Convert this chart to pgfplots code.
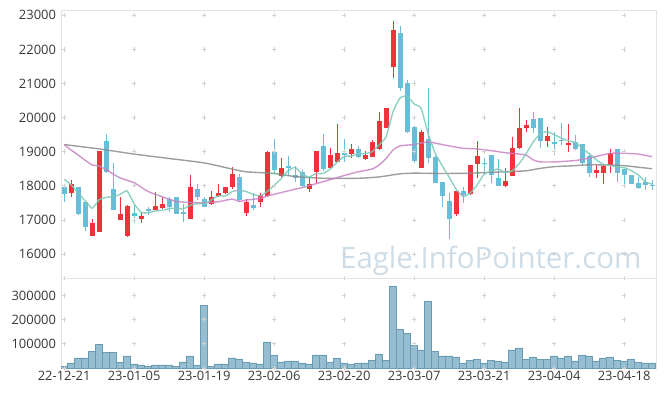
\documentclass[border=0pt]{standalone}
\usepackage{pgfplots}
\pgfplotsset{compat=1.18}
\usepackage{pgfplotstable}
\usepackage{fontspec}
\setmainfont{Open Sans}

\definecolor{upc}{RGB}{238,52,58}
\definecolor{dnc}{RGB}{104,190,216}
\definecolor{mafivec}{RGB}{125,200,185}
\definecolor{matwentyc}{RGB}{200,130,195}
\definecolor{masixtyc}{RGB}{140,140,140}
\definecolor{volf}{RGB}{150,190,208}
\definecolor{vold}{RGB}{105,155,180}
\definecolor{framec}{RGB}{226,226,226}
\definecolor{gridc}{RGB}{210,210,210}
\definecolor{wm}{RGB}{205,220,230}
\definecolor{lbl}{RGB}{55,55,55}

% up candles (close >= open)
\pgfplotstableread{
i o h l c
1 17800 18170 17680 18050
4 16540 17020 16530 16900
5 16650 19020 16640 19020
8 17000 17660 16990 17170
9 16530 17440 16510 17400
11 17040 17240 16900 17120
13 17290 17810 17280 17410
14 17360 17680 17310 17470
18 17030 18320 17020 17950
21 17460 17860 17440 17680
22 17690 18050 17660 17780
23 17780 17960 17770 17950
24 17960 18540 17900 18350
26 17210 17600 17110 17510
28 17515 17780 17370 17730
29 17700 19030 17660 18990
31 18290 18810 18270 18510
35 17900 18220 17810 18050
36 18390 19020 18070 19020
38 18530 19100 18510 18900
39 18710 19810 18700 18970
41 18930 19220 18810 19070
43 18780 19030 18760 18900
44 18840 19340 18830 19280
45 19070 20160 19060 19900
46 19690 20280 19680 20270
47 21490 22830 21150 22570
51 18530 19640 18510 19590
56 17170 17850 17110 17850
58 17750 18620 17740 18610
59 18630 19310 18220 18860
63 18000 18530 17970 18130
64 18300 19420 18280 19100
65 19100 20270 19090 19690
66 19700 19930 19590 19780
69 19320 19720 19150 19460
72 19215 19810 19000 19245
76 18380 18610 18240 18460
77 18370 18610 18040 18580
78 18600 19070 18370 18950
}\up

% down candles (close < open)
\pgfplotstableread{
i o h l c
0 17950 18020 17530 17750
2 17950 17960 17150 17180
3 17520 17530 16670 16800
6 19310 19520 18380 18390
7 17900 18660 17280 17290
10 17190 17440 16900 17100
12 17300 17390 17150 17280
15 17610 17680 17240 17370
16 17660 17670 17180 17180
17 17210 17470 16950 17190
19 17900 18050 17580 17680
20 17600 17660 17370 17390
25 18270 18340 17530 17580
27 17440 17780 17290 17340
30 19000 19360 18380 18460
32 18580 18880 18320 18510
33 18320 18580 18120 18220
34 18390 18460 17930 18000
37 19170 19520 18430 18490
40 18970 19360 18710 18900
42 19070 19170 18810 18850
48 22470 22700 20780 20860
49 21000 21100 19560 19570
50 19730 19740 18660 18740
52 19370 20860 18660 18820
53 18850 18860 18080 18090
54 18110 18110 17390 17710
55 17550 17780 16440 17040
57 17850 17950 17500 17730
60 18670 18820 18320 18650
61 18890 18900 18090 18320
62 18220 18780 17990 18000
67 19960 20150 19560 19690
68 19980 19990 19100 19320
70 19290 19590 18900 19230
71 19350 19830 19200 19320
73 19280 19490 19050 19090
74 19230 19230 18610 18660
75 18870 18950 18270 18380
79 19070 19070 18120 18370
80 18480 18490 18050 18320
81 18320 18330 18040 18050
82 18090 18250 17900 17940
83 18120 18270 17880 18020
84 18020 18170 17880 18000
}\down

\pgfplotstableread{
i v
0 18190
1 18030
2 17790
3 17560
4 17340
5 17590
6 17660
7 17680
8 17750
9 17850
10 17470
11 17220
12 17210
13 17260
14 17280
15 17330
16 17340
17 17320
18 17430
19 17470
20 17480
21 17580
22 17700
23 17700
24 17830
25 17870
26 17830
27 17750
28 17700
29 17830
30 18010
31 18210
32 18440
33 18540
34 18340
35 18260
36 18360
37 18360
38 18490
39 18690
40 18860
41 18870
42 18940
43 18940
44 19000
45 19200
46 19440
47 20180
48 20580
49 20630
50 20400
51 20270
52 19520
53 18960
54 18590
55 18250
56 17900
57 17680
58 17790
59 18020
60 18340
61 18430
62 18490
63 18390
64 18440
65 18650
66 18940
67 19280
68 19520
69 19590
70 19500
71 19400
72 19320
73 19270
74 19110
75 18940
76 18770
77 18630
78 18600
79 18550
80 18530
81 18450
82 18320
83 18120
84 18050
}\mafive

\pgfplotstableread{
i v
0 19200
2 18900
4 18610
5 18580
6 18470
8 18230
10 18090
12 17830
14 17680
16 17540
18 17510
20 17500
22 17530
24 17610
25 17540
26 17580
28 17630
29 17700
31 17800
33 17900
34 17945
37 18120
40 18300
42 18410
44 18490
45 18610
46 18800
47 19050
48 19170
50 19210
52 19290
53 19250
55 19170
57 19100
59 19080
61 19030
63 18970
65 18930
66 18900
67 18760
68 18700
70 18700
73 18740
75 18810
78 18950
80 18950
82 18930
84 18850
}\matwenty

\pgfplotstableread{
i v
0 19210
5 19080
10 18930
15 18800
20 18670
24 18490
26 18410
30 18360
33 18270
37 18220
42 18220
45 18260
48 18350
50 18370
54 18360
58 18370
63 18410
66 18440
68 18510
70 18560
73 18590
75 18615
78 18610
80 18590
82 18545
84 18500
}\masixty

\pgfplotstableread{
i v
0 8000
1 21000
2 42000
3 42000
4 67000
5 96000
6 63000
7 63000
8 25000
9 50000
10 17000
11 12500
12 8000
13 12500
14 12500
15 12500
16 8000
17 25000
18 50000
19 12500
20 258000
21 8000
22 17000
23 17000
24 42000
25 37000
26 25000
27 21000
28 17000
29 108000
30 54000
31 25000
32 29000
33 29000
34 21000
35 17000
36 54000
37 54000
38 25000
39 42000
40 21000
41 15000
42 21000
43 21000
44 33000
45 58000
46 33000
47 339000
48 158000
49 142000
50 92000
51 75000
52 275000
53 67000
54 50000
55 50000
56 46000
57 21000
58 33000
59 37000
60 21000
61 33000
62 29000
63 25000
64 75000
65 83000
66 37000
67 46000
68 37000
69 37000
70 50000
71 42000
72 50000
73 29000
74 54000
75 50000
76 29000
77 42000
78 46000
79 33000
80 29000
81 37000
82 25000
83 21000
84 21000
}\vol

\pgfplotsset{
  cstyle/.style={
    scale only axis, width=595bp, anchor=south west,
    xmin=-0.45, xmax=84.55,
    axis line style={draw=framec, line width=0.8bp},
    major tick length=0pt, tick style={draw=none},
    ticklabel style={font=\fontsize{13}{15}\selectfont, text=lbl},
    yticklabel style={xshift=-1.5bp},
    /pgf/number format/fixed,
    /pgf/number format/1000 sep={},
    /pgf/number format/assume math mode=true,
    scaled y ticks=false,
  },
  crossst/.style={only marks, mark=+, mark size=2.2bp, color=gridc, mark options={line width=0.7bp}},
  candle/.style 2 args={draw=none, mark=none, forget plot,
    error bars/.cd, y dir=both, y explicit, error mark=none,
    error bar style={line width=#2, draw=#1, solid}},
}

\begin{document}
\begin{tikzpicture}
\useasboundingbox (0,0) rectangle (665bp,396bp);
\node[anchor=base west, font=\fontsize{29.5}{30}\selectfont, text=wm, inner sep=0pt] at (340bp,127.7bp) {Eagle.InfoPointer.com};

\begin{axis}[cstyle, at={(61bp,118bp)}, height=268bp,
  ymin=15295, ymax=23155, ytick={16000,17000,...,23000}, xtick=\empty]
\pgfplotsinvokeforeach{0,10,...,80}{
  \addplot[crossst] coordinates {(#1,15295) (#1,16000) (#1,17000) (#1,18000) (#1,19000) (#1,20000) (#1,21000) (#1,22000) (#1,23000)};
}
% wicks
\addplot[candle={upc}{1.1bp}]
  table[x=i, y expr={(\thisrow{h}+\thisrow{l})/2}, y error expr={(\thisrow{h}-\thisrow{l})/2}] {\up};
\addplot[candle={dnc}{1.1bp}]
  table[x=i, y expr={(\thisrow{h}+\thisrow{l})/2}, y error expr={(\thisrow{h}-\thisrow{l})/2}] {\down};
% bodies
\addplot[candle={upc}{5bp}]
  table[x=i, y expr={(\thisrow{o}+\thisrow{c})/2}, y error expr={max(abs(\thisrow{c}-\thisrow{o})/2,20)}] {\up};
\addplot[candle={dnc}{5bp}]
  table[x=i, y expr={(\thisrow{o}+\thisrow{c})/2}, y error expr={max(abs(\thisrow{c}-\thisrow{o})/2,20)}] {\down};
% moving averages
\addplot[masixtyc, line width=1.4bp, opacity=0.85, smooth, tension=0.4, mark=none] table[x=i,y=v] {\masixty};
\addplot[matwentyc, line width=1.4bp, opacity=0.85, smooth, tension=0.4, mark=none] table[x=i,y=v] {\matwenty};
\addplot[mafivec, line width=1.4bp, opacity=0.85, smooth, tension=0.3, mark=none] table[x=i,y=v] {\mafive};
\end{axis}

\begin{axis}[cstyle, at={(61bp,28bp)}, height=90bp,
  ymin=0, ymax=372000, ytick={100000,200000,300000},
  xtick={0,10,...,80},
  xticklabels={22-12-21,23-01-05,23-01-19,23-02-06,23-02-20,23-03-07,23-03-21,23-04-04,23-04-18}]
\pgfplotsinvokeforeach{0,10,...,80}{
  \addplot[crossst] coordinates {(#1,0) (#1,100000) (#1,200000) (#1,300000)};
}
\addplot[ybar, bar width=1, fill=volf, draw=vold, line width=0.6bp] table[x=i,y=v] {\vol};
\end{axis}
\end{tikzpicture}
\end{document}
